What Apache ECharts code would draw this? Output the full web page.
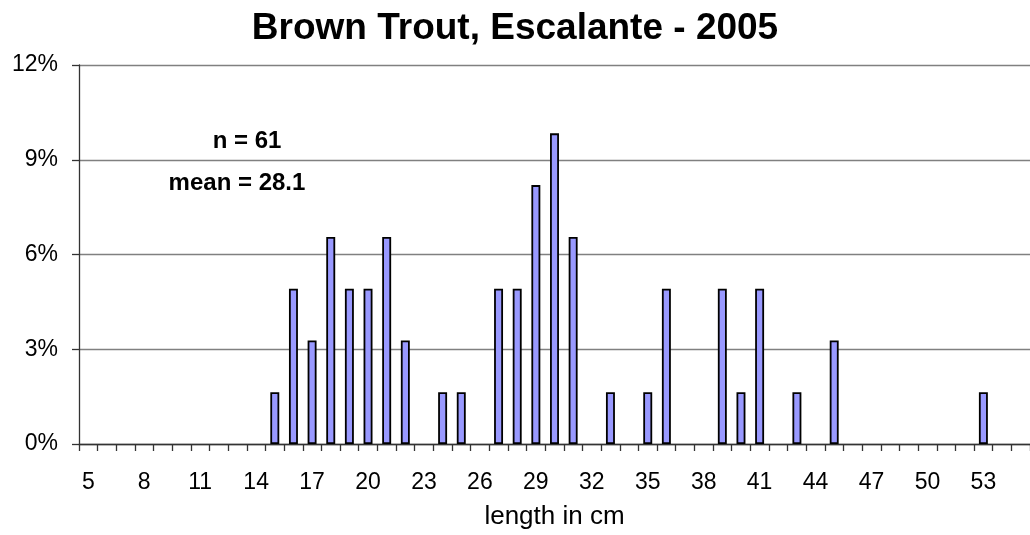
<!DOCTYPE html>
<html>
<head>
<meta charset="utf-8">
<title>Brown Trout, Escalante - 2005</title>
<script src="https://cdn.jsdelivr.net/npm/echarts@6/dist/echarts.min.js"></script>
<style>
  html, body { margin: 0; padding: 0; background: #ffffff; }
  #chart { width: 1030px; height: 535px; }
</style>
</head>
<body>
<div id="chart"></div>
<script>
// Length classes (cm), one category per centimetre
const lengths = [5, 6, 7, 8, 9, 10, 11, 12, 13, 14, 15, 16, 17, 18, 19, 20, 21, 22, 23, 24,
  25, 26, 27, 28, 29, 30, 31, 32, 33, 34, 35, 36, 37, 38, 39, 40, 41, 42, 43, 44,
  45, 46, 47, 48, 49, 50, 51, 52, 53, 54, 55];

// Number of fish caught in each length class
const fishCounts = [0, 0, 0, 0, 0, 0, 0, 0, 0, 0, 1, 3, 2, 4, 3, 3, 4, 2, 0, 1,
  1, 0, 3, 3, 5, 6, 4, 0, 1, 0, 1, 3, 0, 0, 3, 1, 3, 0, 1, 0,
  2, 0, 0, 0, 0, 0, 0, 0, 1, 0, 0];

const sampleSize = 61;
const summaryLines = ['n = 61', 'mean = 28.1'];
const yTicks = [0, 3, 6, 9, 12];

// Share of the sample in each class, in percent (empty classes draw no bar)
const percentValues = fishCounts.map(c => (c > 0 ? c / sampleSize * 100 : null));

const FONT = '"Liberation Sans", Arial, sans-serif';

const chart = echarts.init(document.getElementById('chart'), null, { renderer: 'canvas' });

chart.setOption({
  backgroundColor: '#ffffff',
  animation: false,
  title: {
    text: 'Brown Trout, Escalante - 2005',
    left: 'center',
    top: 5,
    textStyle: { fontFamily: FONT, fontSize: 37, fontWeight: 'bold', color: '#000' }
  },
  grid: { left: 79, top: 65, width: 955, height: 380, containLabel: false },
  xAxis: {
    type: 'category',
    data: lengths,
    boundaryGap: true,
    name: 'length in cm',
    nameLocation: 'middle',
    nameGap: 60,
    nameTextStyle: { fontFamily: FONT, fontSize: 26, color: '#000' },
    axisLine: { lineStyle: { color: '#333', width: 1.3 } },
    axisTick: { show: true, interval: 0, length: 7, lineStyle: { color: '#333', width: 1.3 } },
    axisLabel: { interval: 2, margin: 27, fontFamily: FONT, fontSize: 23, color: '#000' },
    splitLine: { show: false }
  },
  yAxis: {
    type: 'value',
    min: yTicks[0],
    max: yTicks[yTicks.length - 1],
    interval: yTicks[1] - yTicks[0],
    axisLine: { show: true, lineStyle: { color: '#333', width: 1.3 } },
    axisTick: { show: true, length: 7, lineStyle: { color: '#333', width: 1.3 } },
    axisLabel: { formatter: '{value}%', margin: 21, fontFamily: FONT, fontSize: 23, color: '#000' },
    splitLine: { show: true, lineStyle: { color: '#808080', width: 1.3 } }
  },
  series: [{
    type: 'bar',
    data: percentValues,
    barWidth: '48%',
    itemStyle: { color: '#9999FF', borderColor: '#000', borderWidth: 1.8 }
  }],
  graphic: [
    {
      type: 'text', x: 247, y: 141.5,
      style: { text: summaryLines[0], fontFamily: FONT, fontSize: 24, fontWeight: 'bold', fill: '#000',
               align: 'center', verticalAlign: 'middle' }
    },
    {
      type: 'text', x: 237, y: 183,
      style: { text: summaryLines[1], fontFamily: FONT, fontSize: 24, fontWeight: 'bold', fill: '#000',
               align: 'center', verticalAlign: 'middle' }
    }
  ]
});
</script>
</body>
</html>
